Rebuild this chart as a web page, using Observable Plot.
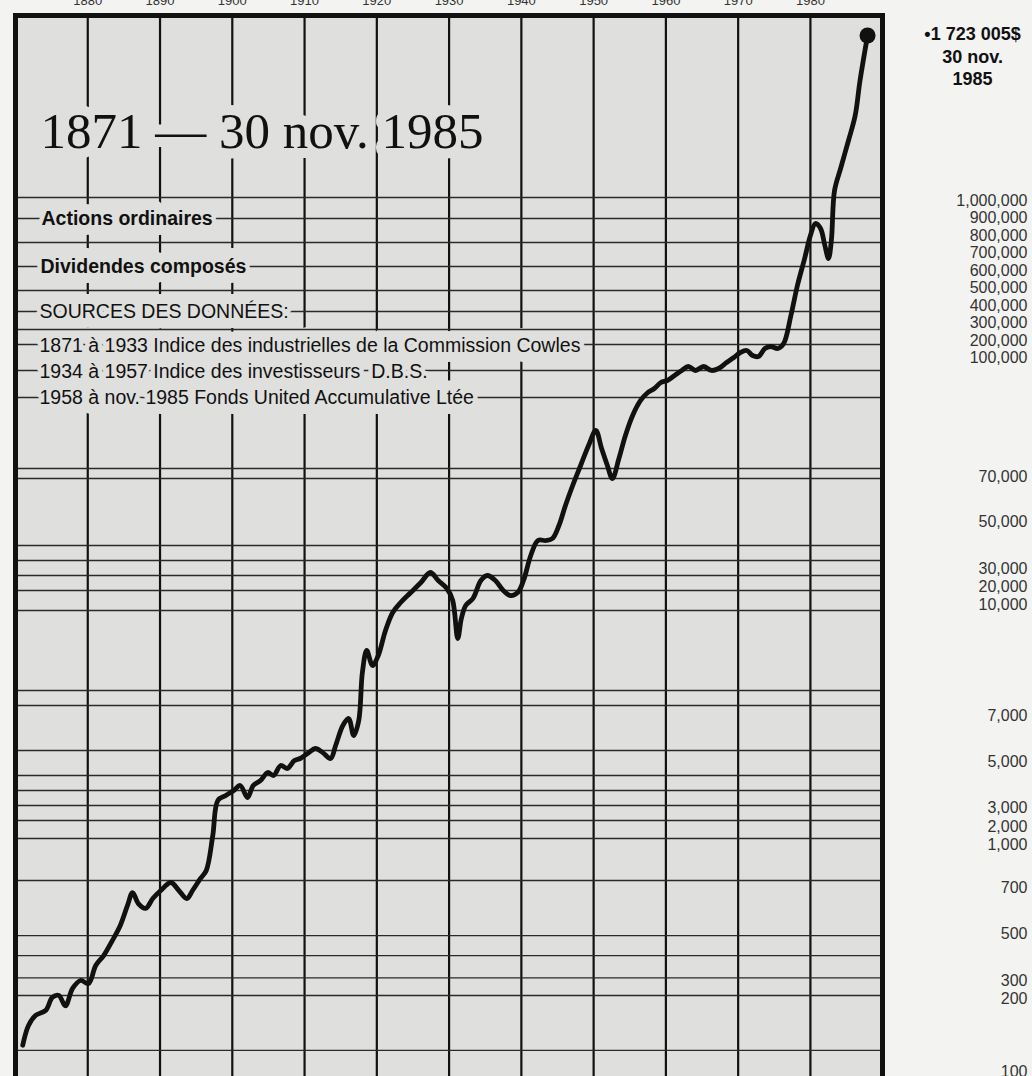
<!DOCTYPE html>
<html><head><meta charset="utf-8">
<script src="https://cdn.jsdelivr.net/npm/d3@7"></script>
<script src="https://cdn.jsdelivr.net/npm/@observablehq/plot@0.6"></script>
<style>
html,body{margin:0;padding:0;overflow:hidden;background:#f3f3f1;}
#chart{margin-top:-25px;}
</style></head><body><div id="chart"></div>
<script>
// ---- data ----
const years = [1871.0,1871.8,1872.8,1874.2,1875.1,1876.0,1876.9,1877.9,1879.0,1880.1,1881.1,1882.2,1883.4,1884.5,1885.5,1886.2,1887.0,1888.0,1889.0,1890.1,1891.5,1892.6,1893.7,1894.5,1895.6,1896.4,1897.3,1898.0,1899.1,1900.2,1901.1,1902.1,1902.9,1903.9,1904.9,1905.7,1906.7,1907.6,1908.6,1909.4,1910.6,1911.5,1912.5,1913.6,1914.3,1915.3,1916.1,1916.8,1917.5,1918.0,1918.6,1919.4,1920.2,1921.2,1922.2,1923.3,1924.7,1926.1,1927.4,1928.5,1929.7,1930.5,1931.2,1931.7,1932.3,1933.3,1934.4,1935.3,1936.4,1937.5,1938.5,1939.5,1940.3,1941.3,1942.3,1943.4,1944.3,1945.2,1946.1,1947.1,1948.2,1949.3,1950.3,1951.1,1951.9,1952.6,1953.5,1954.4,1955.4,1956.5,1957.5,1958.4,1959.3,1960.2,1961.2,1962.2,1963.1,1964.1,1965.2,1966.3,1967.3,1968.4,1969.4,1970.3,1971.2,1972.0,1972.8,1973.7,1974.5,1975.5,1976.3,1977.3,1978.2,1979.2,1980.0,1980.7,1981.4,1982.0,1982.5,1982.9,1983.2,1983.7,1984.35,1984.9,1985.3,1985.92];
const values = [136,163,177,184,206,217,190,256,300,283,364,406,470,535,622,678,630,609,652,687,735,687,652,687,763,819,1500,3304,3522,3739,3957,3435,3957,4174,4522,4391,4826,4696,5043,5130,5391,5565,5391,5130,5696,6565,6870,6130,6783,8162,8757,8352,8622,9298,9784,11111,16667,22222,27778,23333,18889,12222,9081,9622,9973,13333,23333,26111,23333,17778,15000,16667,23333,35532,41915,41915,42766,48298,57111,66000,72785,77848,81646,77089,72785,69111,74557,80380,85443,89241,91266,92282,93800,94307,95573,96839,97852,96839,97852,96839,97346,98865,102857,131429,142857,114286,108571,154286,165714,154286,182857,342857,514286,668571,800000,868571,840000,742857,668571,771429,1043818,1140218,1262908,1372453,1525816,1723005];

const yTickValues = [100,200,300,500,700,1000,2000,3000,5000,7000,10000,20000,30000,50000,70000,100000,200000,300000,400000,500000,600000,700000,800000,900000,1000000];
const xTickYears = [1880,1890,1900,1910,1920,1930,1940,1950,1960,1970,1980];
const gridValues = [1013145,897143,760000,622857,485714,365714,262857,177143,96839,90003,72026,69111,39787,33404,26111,17778,9838,7676,7270,5478,4391,3739,3087,2316,1333,749,491,406,311,217,129];
const finalLabel = "•1 723 005$\n30 nov.\n1985";
const title = "1871 — 30 nov. 1985";
const legendBold = ["Actions ordinaires", "Dividendes composés"];
const legendSources = ["SOURCES DES DONNÉES:",
  "1871 à 1933 Indice des industrielles de la Commission Cowles",
  "1934 à 1957 Indice des investisseurs\u00a0 D.B.S.",
  "1958 à nov. 1985 Fonds United Accumulative Ltée"];

// ---- build ----
const data = years.map((y, i) => ({year: y, value: values[i]}));
const last = data[data.length - 1];
const OFF = 25; // svg shifted up by this much
const bg = "#dfdfdd";
const yDomain = [...yTickValues, last.value, 1810000];
const yRange = [1071,998,980,933,887,844,826,807,761,715,604,586,568,521,476,357.5,340,322.5,305,287.5,270,252.5,235,217.5,200,35,15].map(p => p + OFF);
const sans = "'Liberation Sans', Arial, Helvetica, sans-serif";
const serif = "'Liberation Serif', 'Times New Roman', serif";

// text blocks inside the frame: [text, dx, dy, fontSize, weight, family]
const blocks = [
  [title, 25, 116, 51, "normal", serif],
  [legendBold[0], 26, 203, 19.5, "bold", sans],
  [legendBold[1], 25, 251, 19.5, "bold", sans],
  ...legendSources.map((t, i) => [t, 24, [296, 330, 356, 382][i], 19.5, "normal", sans])
];
const textMark = ([t, dx, dy, fs, fw, ff], halo, fill) => Plot.text([t], {
  frameAnchor: "top-left", dx, dy, textAnchor: "start", lineAnchor: "middle",
  fontSize: fs, fontWeight: fw, fontFamily: ff, fill, stroke: bg, strokeWidth: halo, strokeLinejoin: "round"});

const chart = Plot.plot({
  width: 1032, height: 1110,
  marginLeft: 15, marginRight: 150, marginTop: 40, marginBottom: 5,
  style: {background: "transparent", fontFamily: sans, overflow: "visible"},
  x: {type: "linear", domain: [1870, 1983, 1987.15], range: [15, 831.6, 882], axis: null},
  y: {type: "linear", domain: yDomain, range: yRange, axis: null},
  marks: [
    Plot.frame({fill: bg}),
    Plot.ruleX(xTickYears, {stroke: "#111", strokeWidth: 2.2}),
    // knock the vertical rules out behind the text blocks
    ...blocks.map(b => textMark(b, 20, bg)),
    Plot.ruleY(gridValues, {stroke: "#2a2a2a", strokeWidth: 1.4}),
    ...blocks.map(b => textMark(b, 9, "#111")),
    Plot.line(data, {x: "year", y: "value", stroke: "#111", strokeWidth: 4.8, curve: "catmull-rom", strokeLinejoin: "round"}),
    Plot.dot([last], {x: "year", y: "value", r: 8, fill: "#111"}),
    Plot.text([last], {x: "year", y: "value", text: () => finalLabel, dx: 105, dy: -11, lineAnchor: "top",
      fontSize: 18, fontWeight: "bold", lineHeight: 1.25, fill: "#111"}),
    Plot.text(yTickValues, {y: d => d, frameAnchor: "right", dx: 145, textAnchor: "end", text: d => d3.format(",")(d),
      fontSize: 16, fill: "#333"}),
    Plot.text(xTickYears, {x: d => d, frameAnchor: "top", dy: -11, lineAnchor: "bottom", text: d => String(d),
      fontSize: 13, fill: "#333"}),
    Plot.frame({stroke: "#111", strokeWidth: 5})
  ]
});
document.getElementById("chart").append(chart);
</script></body></html>
